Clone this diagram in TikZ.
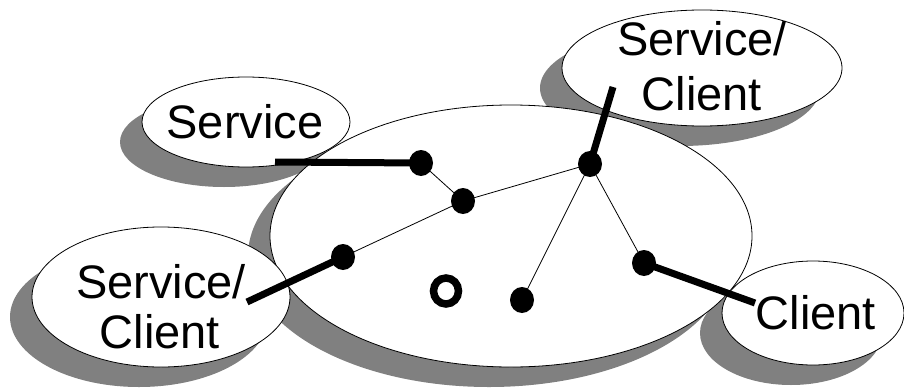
\documentclass[tikz,border=0pt]{standalone}
\usepackage{fontspec}
\setmainfont{Liberation Sans}
\usetikzlibrary{shapes.geometric}
\definecolor{shadowgray}{HTML}{808080}
\tikzset{
  bubble/.style={ellipse, draw=black, line width=0.8pt, fill=white, inner sep=0pt},
  castshadow/.style={fill=shadowgray},
  hub/.style={ellipse, fill=black, minimum width=24pt, minimum height=26pt, inner sep=0pt},
  ring/.style={ellipse, draw=black, line width=7.5pt, minimum width=25pt, minimum height=26pt, inner sep=0pt},
  link/.style={line width=0.8pt},
  tap/.style={line width=7pt},
  caption/.style={anchor=base, inner sep=0pt, font=\fontsize{47}{55}\selectfont},
}
\begin{document}
\begin{tikzpicture}[x=1pt, y=-1pt]
  \useasboundingbox (0,0) rectangle (904,388);

  % drop shadows, offset down and to the left
  \begin{scope}[shift={(-22,20)}]
    \fill[castshadow] (511,236) ellipse [x radius=241pt, y radius=131pt];
    \fill[castshadow] (246,122) ellipse [x radius=104pt, y radius=45pt];
    \fill[castshadow] (702,68)  ellipse [x radius=140pt, y radius=58pt];
    \fill[castshadow] (161,297) ellipse [x radius=129pt, y radius=70pt];
    \fill[castshadow] (813,313) ellipse [x radius=91pt,  y radius=52pt];
  \end{scope}

  % network and the attached parties
  \node[bubble, minimum width=482pt, minimum height=262pt] (net) at (511,236) {};
  \node[bubble, minimum width=208pt, minimum height=90pt]  (svc) at (246,122) {};
  \node[bubble, minimum width=280pt, minimum height=116pt] (sc1) at (702,68) {};
  \node[bubble, minimum width=258pt, minimum height=140pt] (sc2) at (161,297) {};
  \node[bubble, minimum width=182pt, minimum height=104pt] (cli) at (813,313) {};

  % labels
  \node[caption] (svct) at (245,138) {Service};
  \node[caption] (sc1a) at (702,55)  {Service/};
  \node[caption] (sc1b) at (702,110) {Client};
  \node[caption] (sc2a) at (161,298) {Service/};
  \node[caption] (sc2b) at (160,348) {Client};
  \node[caption] (clit) at (816,329) {Client};

  % access points
  \coordinate (e1) at (275,162);
  \coordinate (e2) at (613,87);
  \coordinate (e3) at (247,302);
  \coordinate (e4) at (755,303);

  \node[hub] (d1) at (421,163) {};
  \node[hub] (d2) at (463,201) {};
  \node[hub] (d3) at (590,164) {};
  \node[hub] (d4) at (343,257) {};
  \node[hub] (d5) at (644,263) {};
  \node[hub] (d6) at (522,300) {};
  \node[ring] (r1) at (446,291) {};

  % links inside the network
  \draw[link] (d1.center) -- (d2.center);
  \draw[link] (d2.center) -- (d3.center);
  \draw[link] (d2.center) -- (d4.center);
  \draw[link] (d3.center) -- (d5.center);
  \draw[link] (d3.center) -- (d6.center);

  % attachments
  \draw[tap] (e1) -- (d1.center);
  \draw[tap] (e2) -- (d3.center);
  \draw[tap] (e3) -- (d4.center);
  \draw[tap] (e4) -- (d5.center);
\end{tikzpicture}
\end{document}
